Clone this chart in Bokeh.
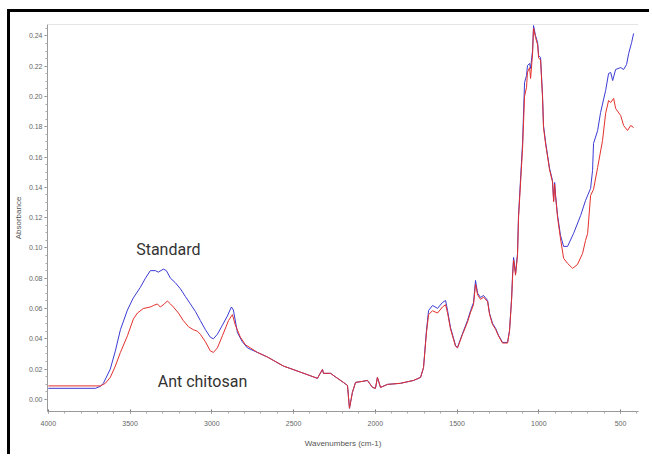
from bokeh.plotting import figure
from bokeh.models import Range1d, FixedTicker, NumeralTickFormatter, Span, Label
from bokeh.embed import file_html
from bokeh.resources import INLINE

# Standard
wn_std = [4000, 3712, 3682, 3663, 3621, 3590, 3559, 3516, 3480, 3437, 3406, 3376, 3345, 3327, 3296, 3278,
          3253, 3223, 3192, 3162, 3131, 3100, 3070, 3039, 3009, 2990, 2966, 2935, 2905, 2880, 2868, 2843,
          2813, 2782, 2721, 2660, 2562, 2458, 2354, 2323, 2317, 2274, 2231, 2195, 2170, 2158, 2140, 2121,
          2078, 2048, 2017, 1999, 1987, 1968, 1925, 1846, 1766, 1723, 1705, 1687, 1674, 1650, 1619, 1589,
          1570, 1558, 1540, 1509, 1497, 1466, 1436, 1417, 1399, 1387, 1374, 1356, 1338, 1313, 1301, 1283,
          1264, 1246, 1222, 1191, 1179, 1166, 1160, 1154, 1142, 1130, 1124, 1099, 1087, 1075, 1069, 1056,
          1050, 1038, 1032, 1020, 1007, 1001, 989, 977, 971, 958, 946, 934, 916, 909, 903, 897, 885, 867,
          848, 824, 787, 744, 714, 683, 671, 665, 640, 622, 591, 573, 560, 548, 530, 499, 481, 463, 450,
          432, 420]
abs_std = [0.0073, 0.0073, 0.0086, 0.0106, 0.020, 0.032, 0.046, 0.059, 0.067, 0.074, 0.080, 0.085, 0.085,
           0.084, 0.086, 0.085, 0.080, 0.077, 0.073, 0.068, 0.063, 0.058, 0.052, 0.046, 0.041, 0.040, 0.043,
           0.049, 0.055, 0.061, 0.059, 0.044, 0.038, 0.034, 0.031, 0.028, 0.022, 0.018, 0.0139, 0.0198,
           0.0172, 0.0172, 0.0139, 0.0112, 0.0092, -0.0059, 0.0046, 0.0112, 0.0119, 0.0125, 0.0079, 0.0073,
           0.0145, 0.0079, 0.0099, 0.0106, 0.0125, 0.0145, 0.021, 0.0455, 0.0587, 0.0620, 0.0601, 0.0640,
           0.0653, 0.0587, 0.0475, 0.0356, 0.0343, 0.0436, 0.0521, 0.0587, 0.0640, 0.0785, 0.0700, 0.0673,
           0.0686, 0.0653, 0.0568, 0.0502, 0.0469, 0.0422, 0.0376, 0.0376, 0.0455, 0.0673, 0.0832, 0.0937,
           0.0832, 0.0964, 0.1214, 0.1696, 0.2092, 0.2138, 0.2204, 0.2218, 0.2185, 0.2303, 0.2468, 0.2402,
           0.2356, 0.2270, 0.2257, 0.2006, 0.1808, 0.1696, 0.1610, 0.1525, 0.1445, 0.1313, 0.1432, 0.1346,
           0.1214, 0.1082, 0.1010, 0.1010, 0.1096, 0.1214, 0.1313, 0.1393, 0.1511, 0.1690, 0.1775, 0.1894,
           0.2039, 0.2152, 0.2158, 0.2105, 0.2178, 0.2191, 0.2178, 0.2211, 0.2284, 0.2356, 0.2416]

# Ant chitosan
wn_ant = [4000, 3682, 3651, 3621, 3590, 3559, 3516, 3480, 3455, 3419, 3376, 3357, 3333, 3315, 3290, 3272,
          3253, 3235, 3204, 3174, 3143, 3113, 3088, 3070, 3039, 3009, 2990, 2966, 2935, 2898, 2874, 2856,
          2825, 2794, 2764, 2721, 2660, 2562, 2458, 2354, 2323, 2317, 2274, 2231, 2195, 2170, 2158, 2140,
          2121, 2078, 2048, 2017, 1999, 1987, 1968, 1925, 1846, 1766, 1723, 1705, 1687, 1674, 1650, 1619,
          1589, 1570, 1558, 1540, 1509, 1497, 1466, 1436, 1417, 1399, 1387, 1374, 1356, 1338, 1313, 1301,
          1283, 1264, 1246, 1222, 1191, 1179, 1166, 1160, 1154, 1142, 1130, 1124, 1099, 1087, 1075, 1069,
          1056, 1050, 1038, 1032, 1020, 1007, 1001, 989, 977, 971, 958, 946, 934, 916, 909, 903, 897, 885,
          867, 848, 824, 793, 763, 732, 714, 701, 683, 665, 640, 610, 591, 573, 560, 542, 530, 499, 481,
          457, 438, 420]
abs_ant = [0.0089, 0.0089, 0.0106, 0.0145, 0.022, 0.031, 0.042, 0.053, 0.057, 0.060, 0.061, 0.062, 0.063,
           0.061, 0.063, 0.065, 0.063, 0.061, 0.057, 0.052, 0.048, 0.046, 0.045, 0.043, 0.038, 0.032, 0.031,
           0.034, 0.042, 0.052, 0.056, 0.049, 0.041, 0.036, 0.034, 0.031, 0.028, 0.022, 0.018, 0.0139,
           0.0198, 0.0172, 0.0172, 0.0139, 0.0112, 0.0092, -0.0059, 0.0046, 0.0112, 0.0119, 0.0125, 0.0079,
           0.0073, 0.0145, 0.0079, 0.0099, 0.0106, 0.0125, 0.0145, 0.021, 0.0440, 0.0560, 0.0585, 0.0570,
           0.0610, 0.0625, 0.0570, 0.0465, 0.0350, 0.0340, 0.0430, 0.0510, 0.0575, 0.0625, 0.0760, 0.0690,
           0.0660, 0.0675, 0.0645, 0.0560, 0.0495, 0.0462, 0.0418, 0.0372, 0.0372, 0.0450, 0.0660, 0.0815,
           0.0920, 0.0820, 0.0950, 0.1195, 0.1660, 0.2000, 0.2060, 0.2160, 0.2190, 0.2119, 0.2280, 0.2450,
           0.2390, 0.2340, 0.2255, 0.2240, 0.1990, 0.1795, 0.1685, 0.1600, 0.1515, 0.1435, 0.1305, 0.1420,
           0.1335, 0.1200, 0.1060, 0.0931, 0.0898, 0.0865, 0.0891, 0.0964, 0.1049, 0.1096, 0.1346, 0.1386,
           0.1531, 0.1709, 0.1888, 0.1973, 0.1960, 0.1987, 0.1921, 0.1874, 0.1808, 0.1775, 0.1808, 0.1795]

x_ticks = [4000, 3500, 3000, 2500, 2000, 1500, 1000, 500]
y_ticks = [0.00, 0.02, 0.04, 0.06, 0.08, 0.10, 0.12, 0.14, 0.16, 0.18, 0.20, 0.22, 0.24]

p = figure(width=642, height=445, output_backend="svg", toolbar_location=None,
           x_range=Range1d(4005, 390), y_range=Range1d(-0.008, 0.2475),
           min_border_left=37, min_border_right=14, min_border_top=12, min_border_bottom=46)
p.styles = {"border-top": "3px solid black", "border-left": "3px solid black",
            "margin-left": "7px", "margin-top": "9px"}
p.outline_line_color = None
p.grid.visible = False
p.background_fill_color = "white"
p.border_fill_color = "white"

p.xaxis.ticker = FixedTicker(ticks=x_ticks, minor_ticks=list(range(400, 4001, 100)))
p.yaxis.ticker = FixedTicker(ticks=y_ticks, minor_ticks=[i * 0.005 for i in range(0, 50)])
p.yaxis.formatter = NumeralTickFormatter(format="0.00")

for ax in (p.xaxis[0], p.yaxis[0]):
    ax.axis_line_color = "#9a9a9a"
    ax.major_tick_line_color = "#777777"
    ax.minor_tick_line_color = "#aaaaaa"
    ax.major_label_text_font = "Liberation Sans"
    ax.major_label_text_font_size = "7px"
    ax.major_label_text_color = "#666666"
    ax.axis_label_text_font = "Liberation Sans"
    ax.axis_label_text_font_size = "8px"
    ax.axis_label_text_font_style = "normal"
    ax.axis_label_text_color = "#555555"

p.xaxis.major_tick_in = 2
p.xaxis.major_tick_out = 2
p.xaxis.minor_tick_in = 0
p.xaxis.minor_tick_out = 2
p.xaxis.major_label_standoff = 7
p.xaxis.axis_label = "Wavenumbers (cm-1)"
p.xaxis.axis_label_standoff = 10

p.yaxis.major_tick_in = 0
p.yaxis.major_tick_out = 3
p.yaxis.minor_tick_in = 0
p.yaxis.minor_tick_out = 2
p.yaxis.major_label_standoff = 2
p.yaxis.axis_label = "Absorbance"
p.yaxis.axis_label_standoff = 3

p.add_layout(Span(location=0.2475, dimension="width", line_color="#cccccc", line_width=1))

p.line(wn_std, abs_std, line_color="#3b3bd4", line_width=1)
p.line(wn_ant, abs_ant, line_color="#e3302c", line_width=1)

p.add_layout(Label(x=3266, y=0.099, text="Standard", text_align="center", text_baseline="middle",
                   text_font="Roboto", text_font_size="16px", text_color="#333333"))
p.add_layout(Label(x=3057, y=0.0119, text="Ant chitosan", text_align="center", text_baseline="middle",
                   text_font="Roboto", text_font_size="16px", text_color="#333333"))

open("out.html", "w").write(file_html(p, INLINE))
